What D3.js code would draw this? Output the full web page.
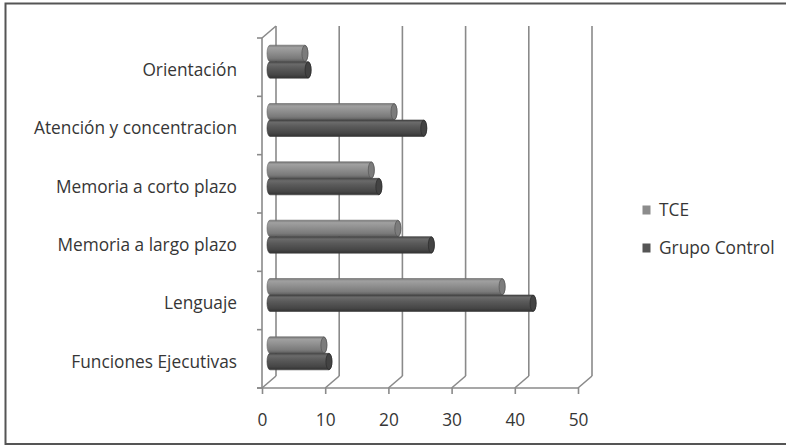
<!DOCTYPE html>
<html>
<head>
<meta charset="utf-8">
<script src="https://cdn.jsdelivr.net/npm/d3@7"></script>
<style>
  html, body { margin: 0; padding: 0; background: #fff; }
  svg { display: block; }
  text { font-family: "Open Sans", Lato, sans-serif; fill: #363636; }
</style>
</head>
<body>
<svg id="chart" width="786" height="446"></svg>
<script>
const categories = ["Orientación", "Atención y concentracion", "Memoria a corto plazo",
                    "Memoria a largo plazo", "Lenguaje", "Funciones Ejecutivas"];
const seriesNames = ["TCE", "Grupo Control"];
const tceValues = [6.0, 20.1, 16.5, 20.7, 37.2, 9.0];
const controlValues = [6.5, 24.8, 17.7, 26.0, 42.1, 9.8];
const xTicks = [0, 10, 20, 30, 40, 50];

const svg = d3.select("#chart");
const W = 786, H = 446;
const FONT = "'Open Sans', Lato, sans-serif";
const FS = 17.3;
const textColor = "#363636";

// outer frame
svg.append("rect").attr("x", 5.5).attr("y", 3.5).attr("width", W + 10).attr("height", 440.5)
  .attr("fill", "none").attr("stroke", "#555").attr("stroke-width", 2);

const x = d3.scaleLinear().domain([0, 50]).range([262, 578]);
const y = d3.scaleBand().domain(categories).range([38, 388]);
const depth = { dx: 14, dy: -12 };
const axisColor = "#8a8a8a";

const defs = svg.append("defs");
function grad(id, stops) {
  const g = defs.append("linearGradient").attr("id", id)
    .attr("x1", 0).attr("y1", 0).attr("x2", 0).attr("y2", 1);
  stops.forEach(s => g.append("stop").attr("offset", s[0]).attr("stop-color", s[1]));
}
grad("gTCE", [[0, "#777777"], [0.15, "#a0a0a0"], [0.4, "#929292"], [0.8, "#7a7a7a"], [1, "#5c5c5c"]]);
grad("gGC", [[0, "#484848"], [0.15, "#6a6a6a"], [0.4, "#5a5a5a"], [0.8, "#464646"], [1, "#323232"]]);
const capFill = ["#7c7c7c", "#434343"];
const fills = ["url(#gTCE)", "url(#gGC)"];

const grid = svg.append("g").attr("stroke", axisColor).attr("stroke-width", 1.6).attr("fill", "none");
const y0 = y.range()[1], yTop = y.range()[0];

// back wall gridlines
grid.selectAll(".back").data(xTicks).join("line")
  .attr("x1", d => x(d) + depth.dx).attr("x2", d => x(d) + depth.dx)
  .attr("y1", yTop + depth.dy).attr("y2", y0 + depth.dy);
// floor diagonals
grid.selectAll(".diag").data(xTicks).join("line")
  .attr("x1", d => x(d)).attr("y1", y0)
  .attr("x2", d => x(d) + depth.dx).attr("y2", y0 + depth.dy);
// left wall front vertical + top diagonal
grid.append("line").attr("x1", x(0)).attr("x2", x(0)).attr("y1", yTop).attr("y2", y0);
grid.append("line").attr("x1", x(0)).attr("y1", yTop).attr("x2", x(0) + depth.dx).attr("y2", yTop + depth.dy);
// category ticks
const bounds = categories.map(c => y(c)).concat([y0]);
grid.selectAll(".ct").data(bounds).join("line")
  .attr("x1", x(0) - 5).attr("x2", x(0)).attr("y1", d => d).attr("y2", d => d);

// bottom axis
const xAxis = d3.axisBottom(x).tickValues(xTicks).tickSize(6).tickPadding(20);
const gx = svg.append("g").attr("transform", `translate(0,${y0})`).call(xAxis);
gx.select(".domain").attr("stroke", axisColor).attr("stroke-width", 1.6)
  .attr("d", `M${x(0) - 5},0H${x(50)}`);
gx.selectAll(".tick line").attr("stroke", axisColor).attr("stroke-width", 1.6);
gx.selectAll(".tick text").attr("font-size", FS).attr("fill", textColor)
  .style("font-family", FONT);

// category labels
svg.append("g").selectAll("text").data(categories).join("text")
  .attr("x", 237).attr("y", d => y(d) + y.bandwidth() / 2 + 8.7)
  .attr("text-anchor", "end")
  .attr("font-size", FS).text(d => d);

// bars (cylinders)
const barH = 16.5;
const data = [];
categories.forEach((c, i) => {
  [tceValues[i], controlValues[i]].forEach((v, s) => data.push({ c, v, s }));
});
const bars = svg.append("g");
const rx = 3;
data.forEach(d => {
  const cy = y(d.c) + y.bandwidth() / 2 - 5.5;
  const top = cy - barH + d.s * barH;
  const x0 = x(0) + 8, x1 = x(d.v) + 5;
  const ry = barH / 2;
  bars.append("path")
    .attr("d", `M${x0},${top}L${x1},${top}A${rx},${ry} 0 0 1 ${x1},${top + barH}L${x0},${top + barH}A${rx},${ry} 0 0 1 ${x0},${top}Z`)
    .attr("fill", fills[d.s]).attr("stroke", d.s ? "#3a3a3a" : "#6a6a6a").attr("stroke-width", 0.6);
  bars.append("ellipse").attr("cx", x1).attr("cy", top + ry).attr("rx", rx).attr("ry", ry - 0.3)
    .attr("fill", capFill[d.s]).attr("stroke", d.s ? "#2e2e2e" : "#5a5a5a").attr("stroke-width", 0.8);
});

// legend
const legendY = [210, 248];
const lg = svg.append("g");
lg.selectAll("rect").data(seriesNames).join("rect")
  .attr("x", 642.5).attr("y", (d, i) => legendY[i] - 4.5).attr("width", 8).attr("height", 9)
  .attr("fill", (d, i) => i ? "#555555" : "#8c8c8c");
lg.selectAll("text").data(seriesNames).join("text")
  .attr("x", 659).attr("y", (d, i) => legendY[i] + 6.3)
  .attr("font-size", FS).text(d => d);
</script>
</body>
</html>
